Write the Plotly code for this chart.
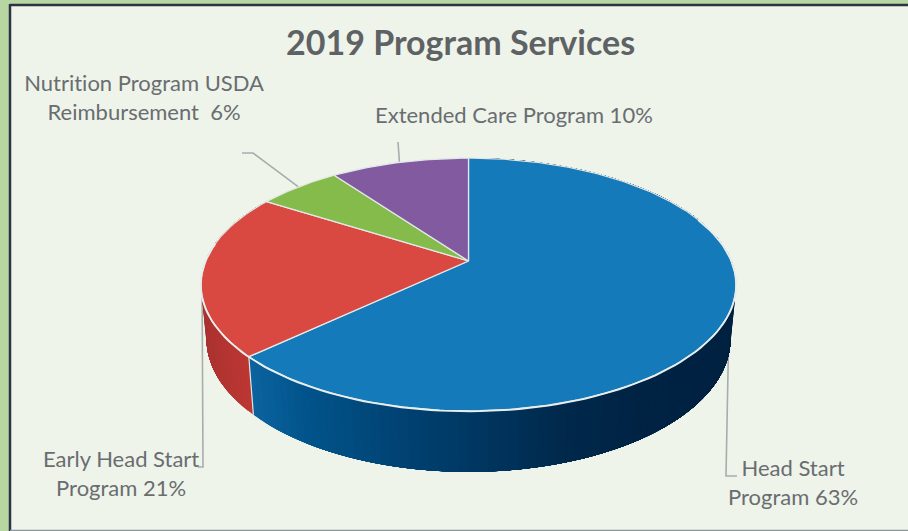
import numpy as np
import plotly.graph_objects as go

# ---- data ----
categories = ["Head Start Program", "Early Head Start Program",
              "Nutrition Program USDA Reimbursement", "Extended Care Program"]
values = [63, 21, 6, 10]
top_colors = ["#147ab9", "#d94841", "#84bb4b", "#825a9f"]
title_text = "2019 Program Services"
label_texts = ["Head Start<br>Program 63%", "Early Head Start<br>Program 21%",
               "Nutrition Program USDA<br>Reimbursement  6%", "Extended Care Program 10%"]

# ---- layout constants (pixels) ----
W, H = 908, 531
CX, CY = 468.5, 261.0      # apex of the pie on the top face
PERSP = 0.186
SX, KY = 263.0, 122.0      # top face scale
SXB, KYB = 257.5, 128.5    # bottom rim scale
CYB = 314.0                # bottom rim centre
TEXT = "#6a6d70"
LEADER = "#a9acad"


def top_xy(theta):
    u, v = np.sin(theta), -np.cos(theta)
    d = 1 - PERSP * v
    return CX + SX * u / d, CY + KY * v / d


def bottom_xy(theta):
    u, v = np.sin(theta), -np.cos(theta)
    d = 1 - PERSP * v
    return CX + SXB * u / d, CYB + KYB * v / d


def lerp_hex(stops, t):
    xs = [s[0] for s in stops]
    rgb = [np.interp(t, xs, [int(s[1][i:i + 2], 16) for s in stops]) for i in (1, 3, 5)]
    return "rgb(%d,%d,%d)" % tuple(int(c) for c in rgb)


fractions = np.cumsum([0] + values) / sum(values)
angles = fractions * 2 * np.pi

side_stops = [
    [(248, "#0c64a0"), (300, "#02558c"), (400, "#014272"), (480, "#003660"),
     (560, "#00294c"), (640, "#002344"), (740, "#002140")],
    [(200, "#a93230"), (252, "#bd3733")],
]

fig = go.Figure()


def poly(xs, ys, fill):
    fig.add_trace(go.Scatter(
        x=list(xs), y=list(ys), mode="lines", fill="toself", fillcolor=fill,
        line=dict(color=fill, width=0), hoverinfo="skip", showlegend=False))


# leader lines, anchored on each slice's mid angle; they pass behind the pie
mids = (angles[:-1] + angles[1:]) / 2
leader_paths = [
    [(726, 476), (737, 476)],
    [(203, 467), (198, 467)],
    [(253, 153), (242, 153)],
    [(398, 142)],
]
for mid, path in zip(mids, leader_paths):
    ax, ay = top_xy(mid)
    fig.add_trace(go.Scatter(
        x=[ax] + [p[0] for p in path], y=[ay] + [p[1] for p in path], mode="lines",
        line=dict(color=LEADER, width=1.6), hoverinfo="skip", showlegend=False))

# side wall: painted from the red/blue seam outward, each band overlapping the rest of
# its slice so that no seams appear between bands
for i in (0, 1):
    n = max(8, values[i] * 2)
    starts = np.linspace(angles[1], angles[0] if i == 0 else angles[2], n, endpoint=False)
    end = angles[0] if i == 0 else angles[2]
    for a in starts:
        th = np.linspace(a, end, 90)
        tx, ty = top_xy(th)
        bx, by = bottom_xy(th[::-1])
        colour = lerp_hex(side_stops[i], (tx[0] + bx[-1]) / 2)
        poly(np.r_[tx, bx, tx[0]], np.r_[ty, by, ty[0]], colour)

# seam between the red and blue wall
sx0, sy0 = top_xy(angles[1])
sx1, sy1 = bottom_xy(angles[1])
fig.add_trace(go.Scatter(x=[sx0, sx1], y=[sy0, sy1], mode="lines",
                         line=dict(color="#dfe5e4", width=1.2),
                         hoverinfo="skip", showlegend=False))

# top face
for i, (name, col) in enumerate(zip(categories, top_colors)):
    th = np.linspace(angles[i], angles[i + 1], max(12, values[i] * 4))
    px, py = top_xy(th)
    fig.add_trace(go.Scatter(
        x=np.r_[CX, px, CX], y=np.r_[CY, py, CY], mode="lines", fill="toself", fillcolor=col,
        line=dict(color="#e2e8e8", width=1.3), name=name, showlegend=False,
        hovertemplate=f"{name}: {values[i]}%<extra></extra>"))

# brighter front rim of the top face
rim = np.linspace(angles[0] + 1.2, angles[1] + 0.9, 120)
rx, ry = top_xy(rim)
fig.add_trace(go.Scatter(x=rx, y=ry + 0.4, mode="lines", line=dict(color="#e8eeee", width=1.8),
                         hoverinfo="skip", showlegend=False))

# label placement
label_pos = [(793, 482), (121, 473), (144, 97), (514, 114)]
annotations = [dict(x=x, y=y, xref="x", yref="y", text=t, showarrow=False,
                    align="center", font=dict(family="Lato", size=22, color=TEXT))
               for (x, y), t in zip(label_pos, label_texts)]
annotations.append(dict(x=460, y=41, xref="x", yref="y", text=f"<b>{title_text}</b>",
                        showarrow=False, font=dict(family="Lato", size=34, color="#5f6264")))

shapes = [
    dict(type="rect", x0=10, y0=5, x1=W + 10, y1=530, xref="x", yref="y",
         fillcolor="#eef4ea", line=dict(width=0), layer="below"),
    dict(type="line", x0=10, y0=5, x1=W, y1=5, xref="x", yref="y",
         line=dict(color="#2c3345", width=2.5), layer="below"),
    dict(type="line", x0=10, y0=4, x1=10, y1=531, xref="x", yref="y",
         line=dict(color="#2c3345", width=2.5), layer="below"),
    dict(type="line", x0=10, y0=530.5, x1=W, y1=530.5, xref="x", yref="y",
         line=dict(color="#8b949b", width=1.5), layer="below"),
]

fig.update_layout(
    width=W, height=H, margin=dict(l=0, r=0, t=0, b=0),
    paper_bgcolor="#b7d6a2", plot_bgcolor="rgba(0,0,0,0)",
    xaxis=dict(range=[0, W], visible=False, fixedrange=True),
    yaxis=dict(range=[H, 0], visible=False, fixedrange=True),
    showlegend=False, annotations=annotations, shapes=shapes,
)
fig.write_html("out.html", config={"displayModeBar": False},
               post_script="document.body.style.margin='0';document.documentElement.style.overflow='hidden';"
                           "document.querySelectorAll('svg text').forEach(function(t){t.style.fontVariantLigatures='none';});")
